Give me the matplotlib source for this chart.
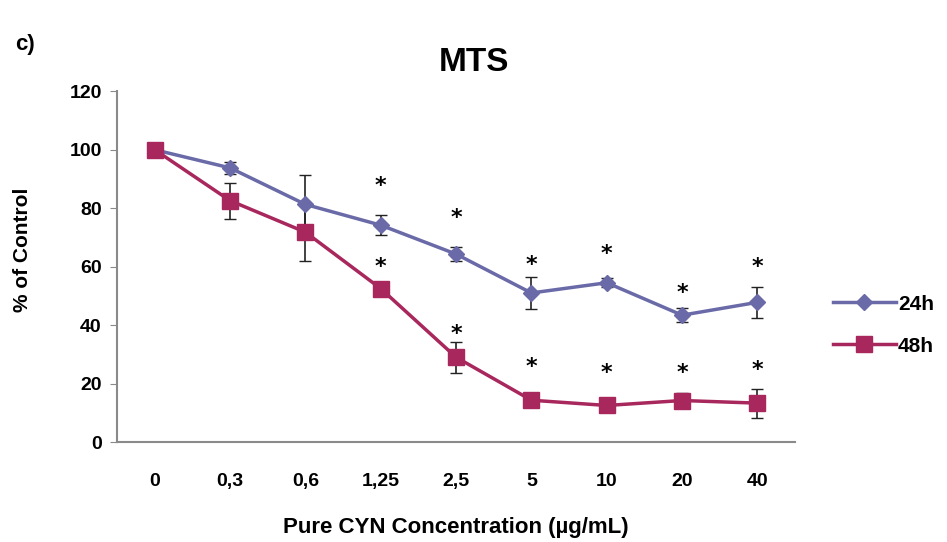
import matplotlib
matplotlib.use("Agg")
import matplotlib.pyplot as plt

plt.rcParams['font.family'] = ['Liberation Sans', 'DejaVu Sans']

concentrations = ["0", "0,3", "0,6", "1,25", "2,5", "5", "10", "20", "40"]
mts_24h = [100, 93.8, 81.3, 74.2, 64.3, 51.0, 54.5, 43.4, 47.8]
err_24h = [0.5, 2.0, 10.0, 3.5, 2.5, 5.6, 1.5, 2.5, 5.3]
mts_48h = [100, 82.6, 71.8, 52.5, 29.0, 14.3, 12.5, 14.2, 13.3]
err_48h = [0.5, 6.2, 9.8, 2.0, 5.3, 1.5, 1.5, 2.5, 5.0]

# significance marks (x index, y position)
sig_24h_x = [3, 4, 5, 6, 7, 8]
sig_24h_y = [89, 78.3, 62.2, 65.7, 52.6, 61.3]
sig_48h_x = [3, 4, 5, 6, 7, 8]
sig_48h_y = [61.4, 38.6, 27, 25.2, 25.2, 26]

c24 = "#6a6aa8"
c48 = "#a8275c"

fig = plt.figure(figsize=(9.47, 5.42), dpi=100)
ax = fig.add_axes([0.1236, 0.1845, 0.716, 0.647])

x = list(range(len(concentrations)))
ax.errorbar(x, mts_24h, yerr=err_24h, fmt="none", ecolor="#222222", elinewidth=1.2, capsize=4, zorder=2)
ax.errorbar(x, mts_48h, yerr=err_48h, fmt="none", ecolor="#222222", elinewidth=1.2, capsize=4, zorder=2)
ax.plot(x, mts_24h, color=c24, lw=2.5, marker="D", markersize=8, label="24h", zorder=3)
ax.plot(x, mts_48h, color=c48, lw=2.5, marker="s", markersize=11, label="48h", zorder=3)

for xs, ys in [(sig_24h_x, sig_24h_y), (sig_48h_x, sig_48h_y)]:
    for xi, yi in zip(xs, ys):
        ax.text(xi, yi - 1.5, "*", ha="center", va="center", fontsize=16, fontweight="bold",
                family="DejaVu Sans")

ax.set_xlim(-0.5, 8.5)
ax.set_ylim(0, 120)
ax.set_yticks(range(0, 121, 20))
ax.set_xticks(x)
ax.set_xticklabels(concentrations)
for s in ["top", "right"]:
    ax.spines[s].set_visible(False)
for s in ["left", "bottom"]:
    ax.spines[s].set_color("#8a8a8a")
    ax.spines[s].set_linewidth(1.5)
ax.tick_params(axis="y", length=5, color="#8a8a8a", labelsize=14, pad=6)
ax.tick_params(axis="x", length=0, labelsize=14, pad=22)
for lab in ax.get_xticklabels() + ax.get_yticklabels():
    lab.set_fontweight("bold")

ax.set_ylabel("% of Control", fontsize=15, fontweight="bold")
ax.yaxis.set_label_coords(-0.125, 0.547)
ax.set_xlabel("Pure CYN Concentration (µg/mL)", fontsize=16, fontweight="bold", labelpad=20)

fig.text(0.5, 0.885, "MTS", ha="center", va="center", fontsize=24, fontweight="bold")
fig.text(0.016, 0.918, "c)", ha="left", va="center", fontsize=16, fontweight="bold")

ax.legend(loc="center left", bbox_to_anchor=(0.86, 0.40), bbox_transform=fig.transFigure,
          frameon=False, handlelength=3.0, handletextpad=0.1, labelspacing=1.1,
          prop={"weight": "bold", "size": 15})

fig.savefig("out.png", dpi=100)
